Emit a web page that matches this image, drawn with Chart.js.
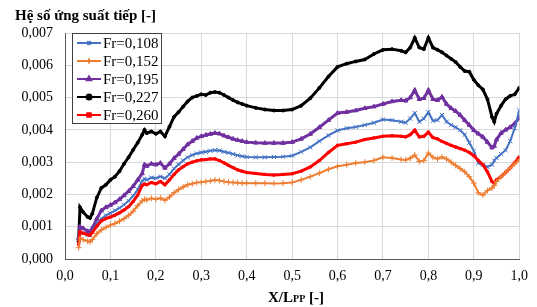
<!DOCTYPE html>
<html>
<head>
<meta charset="utf-8">
<script src="https://cdn.jsdelivr.net/npm/chart.js@4/dist/chart.umd.min.js"></script>
<style>
  body { margin: 0; background: #fff; }
</style>
</head>
<body>
<canvas id="chart" width="537" height="307"></canvas>
<script>
// X/Lpp positions shared by all series
var xPos = [
  0.030, 0.033, 0.040, 0.050, 0.055, 0.060, 0.070, 0.080, 0.090, 0.100,
  0.110, 0.120, 0.130, 0.140, 0.150, 0.160, 0.170, 0.175, 0.180, 0.190,
  0.200, 0.210, 0.220, 0.230, 0.240, 0.250, 0.260, 0.270, 0.280, 0.290,
  0.300, 0.310, 0.320, 0.330, 0.340, 0.350, 0.360, 0.370, 0.380, 0.390,
  0.400, 0.420, 0.440, 0.460, 0.480, 0.500, 0.520, 0.540, 0.560, 0.580,
  0.600, 0.620, 0.640, 0.660, 0.680, 0.700, 0.720, 0.740, 0.750, 0.760,
  0.770, 0.780, 0.790, 0.800, 0.810, 0.820, 0.830, 0.840, 0.850, 0.860,
  0.870, 0.880, 0.890, 0.900, 0.910, 0.920, 0.930, 0.940, 0.945, 0.950,
  0.960, 0.970, 0.980, 0.990, 1.000
];

var fr108 = [
  0.00060,0.00082,0.00080,0.00075,0.00074,0.00085,0.00110,0.00125,0.00135,0.00142,
  0.00150,0.00158,0.00168,0.00180,0.00195,0.00215,0.00242,0.00248,0.00245,0.00252,
  0.00250,0.00255,0.00250,0.00262,0.00280,0.00293,0.00305,0.00315,0.00322,0.00327,
  0.00330,0.00332,0.00335,0.00337,0.00336,0.00332,0.00329,0.00325,0.00321,0.00318,
  0.00316,0.00315,0.00315,0.00316,0.00317,0.00320,0.00332,0.00346,0.00365,0.00383,
  0.00398,0.00405,0.00409,0.00415,0.00422,0.00432,0.00430,0.00425,0.00422,0.00435,
  0.00452,0.00425,0.00435,0.00455,0.00428,0.00430,0.00446,0.00425,0.00415,0.00408,
  0.00399,0.00385,0.00360,0.00335,0.00297,0.00292,0.00285,0.00292,0.00305,0.00313,
  0.00325,0.00337,0.00365,0.00405,0.00460
];

var fr152 = [
  0.00035,0.00065,0.00060,0.00055,0.00053,0.00060,0.00078,0.00090,0.00098,0.00105,
  0.00110,0.00117,0.00125,0.00135,0.00148,0.00165,0.00180,0.00185,0.00183,0.00188,
  0.00185,0.00189,0.00182,0.00192,0.00205,0.00215,0.00223,0.00230,0.00233,0.00237,
  0.00238,0.00240,0.00242,0.00245,0.00243,0.00240,0.00238,0.00237,0.00236,0.00235,
  0.00235,0.00235,0.00235,0.00234,0.00235,0.00237,0.00245,0.00255,0.00266,0.00278,
  0.00287,0.00292,0.00297,0.00300,0.00305,0.00315,0.00313,0.00308,0.00307,0.00312,
  0.00322,0.00302,0.00305,0.00328,0.00315,0.00310,0.00316,0.00310,0.00300,0.00290,
  0.00280,0.00270,0.00255,0.00235,0.00205,0.00198,0.00212,0.00220,0.00228,0.00240,
  0.00255,0.00268,0.00282,0.00295,0.00307
];

var fr195 = [
  0.00065,0.00100,0.00095,0.00086,0.00084,0.00095,0.00125,0.00150,0.00160,0.00167,
  0.00175,0.00185,0.00197,0.00210,0.00225,0.00245,0.00265,0.00292,0.00288,0.00295,
  0.00292,0.00297,0.00282,0.00295,0.00312,0.00325,0.00340,0.00355,0.00365,0.00375,
  0.00380,0.00384,0.00387,0.00390,0.00388,0.00382,0.00377,0.00372,0.00368,0.00365,
  0.00362,0.00360,0.00359,0.00359,0.00359,0.00362,0.00372,0.00387,0.00408,0.00430,
  0.00452,0.00455,0.00460,0.00467,0.00472,0.00480,0.00488,0.00492,0.00490,0.00500,
  0.00523,0.00495,0.00498,0.00523,0.00495,0.00492,0.00502,0.00480,0.00467,0.00458,
  0.00446,0.00430,0.00415,0.00399,0.00388,0.00378,0.00362,0.00345,0.00350,0.00370,
  0.00390,0.00400,0.00408,0.00420,0.00437
];

var fr227 = [
  0.00055,0.00160,0.00145,0.00130,0.00127,0.00140,0.00190,0.00220,0.00230,0.00245,
  0.00255,0.00272,0.00295,0.00315,0.00338,0.00360,0.00385,0.00400,0.00390,0.00395,
  0.00388,0.00395,0.00380,0.00410,0.00440,0.00455,0.00472,0.00488,0.00500,0.00505,
  0.00510,0.00508,0.00515,0.00517,0.00515,0.00508,0.00500,0.00492,0.00485,0.00480,
  0.00475,0.00468,0.00463,0.00460,0.00460,0.00463,0.00475,0.00498,0.00530,0.00565,
  0.00595,0.00605,0.00612,0.00618,0.00635,0.00648,0.00650,0.00645,0.00640,0.00655,
  0.00685,0.00655,0.00650,0.00685,0.00655,0.00648,0.00640,0.00630,0.00620,0.00610,
  0.00595,0.00582,0.00580,0.00555,0.00538,0.00525,0.00495,0.00440,0.00425,0.00450,
  0.00475,0.00495,0.00505,0.00510,0.00530
];

var fr260 = [
  0.00045,0.00084,0.00080,0.00075,0.00074,0.00082,0.00102,0.00118,0.00125,0.00130,
  0.00136,0.00143,0.00152,0.00162,0.00178,0.00198,0.00228,0.00232,0.00230,0.00237,
  0.00233,0.00240,0.00230,0.00245,0.00262,0.00276,0.00286,0.00295,0.00300,0.00304,
  0.00307,0.00308,0.00310,0.00310,0.00305,0.00298,0.00290,0.00283,0.00276,0.00272,
  0.00268,0.00265,0.00262,0.00260,0.00262,0.00264,0.00272,0.00285,0.00305,0.00330,
  0.00352,0.00357,0.00362,0.00370,0.00375,0.00380,0.00382,0.00380,0.00378,0.00385,
  0.00399,0.00378,0.00380,0.00393,0.00376,0.00372,0.00364,0.00358,0.00352,0.00347,
  0.00342,0.00337,0.00330,0.00320,0.00305,0.00292,0.00270,0.00240,0.00235,0.00245,
  0.00255,0.00268,0.00282,0.00298,0.00316
];

var seriesNames = ['Fr=0,108', 'Fr=0,152', 'Fr=0,195', 'Fr=0,227', 'Fr=0,260'];
var seriesValues = [fr108, fr152, fr195, fr227, fr260];
var seriesColors = ['#4472C4', '#ED7D31', '#7030A0', '#000000', '#FF0000'];
var seriesPoints = ['crossRot', 'cross', 'triangle', 'circle', 'rect'];
var seriesWidths = [2, 2, 3, 3, 3];
var pointSizes = [3, 3, 2.5, 1.5, 1.5];

var serif = "'Liberation Serif', 'Times New Roman', serif";

function toPoints(values) {
  return xPos.map(function (x, i) { return { x: x, y: values[i] }; });
}

// draw order: black at the back like the original
var drawOrder = [3, 2, 0, 4, 1];
var datasets = seriesNames.map(function (name, i) {
  return {
    label: name,
    data: toPoints(seriesValues[i]),
    borderColor: seriesColors[i],
    backgroundColor: seriesColors[i],
    borderWidth: seriesWidths[i],
    pointStyle: seriesPoints[i],
    pointRadius: pointSizes[i],
    pointBorderWidth: 1,
    pointHoverRadius: pointSizes[i],
    tension: 0,
    order: drawOrder.length - drawOrder.indexOf(i)
  };
});

// boxed legend drawn inside the plot, top-left
var boxLegend = {
  id: 'boxLegend',
  afterDraw: function (chart) {
    var ctx = chart.ctx;
    var area = chart.chartArea;
    var left = area.left + 7, top = area.top, w = 89, h = 90;
    ctx.save();
    ctx.fillStyle = '#fff';
    ctx.fillRect(left, top, w, h);
    ctx.strokeStyle = '#404040';
    ctx.lineWidth = 1;
    ctx.strokeRect(left + 0.5, top + 0.5, w, h);
    ctx.font = '15px ' + serif;
    ctx.textBaseline = 'middle';
    seriesNames.forEach(function (name, i) {
      var y = top + 10 + i * 18;
      ctx.strokeStyle = seriesColors[i];
      ctx.fillStyle = seriesColors[i];
      ctx.lineWidth = 2;
      ctx.beginPath();
      ctx.moveTo(left + 5, y);
      ctx.lineTo(left + 29, y);
      ctx.stroke();
      Chart.helpers.drawPoint(ctx, { pointStyle: seriesPoints[i], radius: 2.5, borderWidth: 1, rotation: 0 }, left + 17, y);
      ctx.fillStyle = '#000';
      ctx.fillText(name, left + 31, y + 1);
    });
    ctx.restore();
  }
};

// x axis title with small "PP"
var xTitle = {
  id: 'xTitle',
  afterDraw: function (chart) {
    var ctx = chart.ctx;
    var big = 'bold 15px ' + serif, small = 'bold 10px ' + serif;
    ctx.save();
    ctx.fillStyle = '#000';
    ctx.textBaseline = 'alphabetic';
    ctx.font = big;
    var w1 = ctx.measureText('X/L').width, w3 = ctx.measureText(' [-]').width;
    ctx.font = small;
    var w2 = ctx.measureText('PP').width;
    var x = 296 - (w1 + w2 + w3) / 2, y = 302;
    ctx.font = big;
    ctx.fillText('X/L', x, y);
    ctx.font = small;
    ctx.fillText('PP', x + w1, y);
    ctx.font = big;
    ctx.fillText(' [-]', x + w1 + w2, y);
    ctx.restore();
  }
};

new Chart(document.getElementById('chart'), {
  type: 'line',
  data: { datasets: datasets },
  options: {
    responsive: false,
    animation: false,
    devicePixelRatio: 1,
    layout: { padding: { left: 15, right: 16, top: 0, bottom: 0 } },
    plugins: {
      legend: { display: false },
      tooltip: { enabled: false },
      title: {
        display: true,
        text: 'Hệ số ứng suất tiếp [-]',
        align: 'start',
        color: '#000',
        font: { family: serif, size: 15, weight: 'bold' },
        padding: { top: 7, bottom: 8 }
      }
    },
    scales: {
      x: {
        type: 'linear',
        min: 0,
        max: 1,
        afterFit: function (scale) { scale.height = 48; },
        ticks: {
          stepSize: 0.1,
          padding: 9,
          color: '#000',
          font: { family: serif, size: 14 },
          maxRotation: 0,
          callback: function (v) { return v.toFixed(1).replace('.', ','); }
        },
        grid: { color: '#d9d9d9', drawTicks: false },
        border: { color: '#595959', width: 1 }
      },
      y: {
        min: 0,
        max: 0.007,
        afterFit: function (scale) { scale.width = 50; },
        ticks: {
          stepSize: 0.001,
          padding: 12,
          color: '#000',
          font: { family: serif, size: 14 },
          callback: function (v) { return v.toFixed(3).replace('.', ','); }
        },
        grid: { color: '#d9d9d9', drawTicks: false },
        border: { color: '#595959', width: 1 }
      }
    }
  },
  plugins: [boxLegend, xTitle]
});
</script>
</body>
</html>
